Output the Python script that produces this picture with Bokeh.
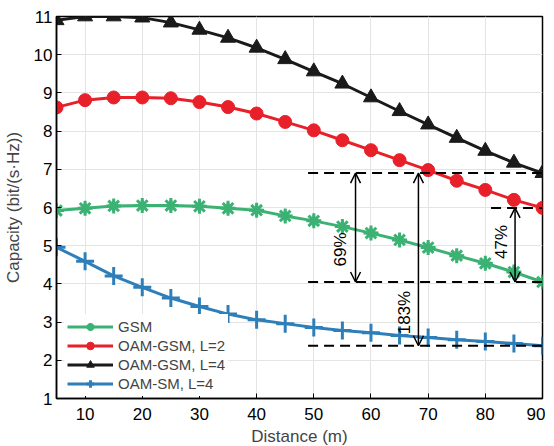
from bokeh.plotting import figure
from bokeh.models import (Range1d, FixedTicker, Arrow, OpenHead, Label, Legend, LegendItem)
from bokeh.embed import file_html
from bokeh.resources import INLINE

distance = [5, 10, 15, 20, 25, 30, 35, 40, 45, 50, 55, 60, 65, 70, 75, 80, 85, 90]
gsm = [5.92, 5.98, 6.04, 6.05, 6.05, 6.03, 5.98, 5.93, 5.78, 5.65, 5.50, 5.33, 5.15, 4.95, 4.74, 4.54, 4.31, 4.05]
oam_gsm_l2 = [8.62, 8.81, 8.88, 8.88, 8.86, 8.76, 8.63, 8.46, 8.24, 8.02, 7.76, 7.50, 7.24, 6.98, 6.70, 6.46, 6.20, 5.99]
oam_gsm_l4 = [10.90, 11.0, 11.0, 10.97, 10.84, 10.65, 10.44, 10.18, 9.88, 9.56, 9.24, 8.88, 8.52, 8.17, 7.82, 7.48, 7.17, 6.90]
oam_sm_l4 = [4.96, 4.59, 4.21, 3.91, 3.63, 3.41, 3.21, 3.06, 2.96, 2.86, 2.78, 2.72, 2.65, 2.60, 2.54, 2.49, 2.44, 2.38]

series_names = ["GSM", "OAM-GSM, L=2", "OAM-GSM, L=4", "OAM-SM, L=4"]
gain_labels = ["69%", "183%", "47%"]
x_ticks = [10, 20, 30, 40, 50, 60, 70, 80, 90]
y_ticks = [1, 2, 3, 4, 5, 6, 7, 8, 9, 10, 11]

FONT = "Liberation Sans"
green = "#3bb273"
red = "#e8202a"
black = "#1a1a1a"
blue = "#2e7fb9"

p = figure(frame_width=486, frame_height=382, x_range=Range1d(5, 90), y_range=Range1d(1, 11),
           output_backend="svg", toolbar_location=None,
           min_border_left=49, min_border_top=16, min_border_right=3, min_border_bottom=4)
p.background_fill_color = "white"
p.outline_line_color = "black"
p.outline_line_width = 1.5

for ax in (p.xaxis[0], p.yaxis[0]):
    ax.major_label_text_font = FONT
    ax.major_label_text_font_size = "17px"
    ax.major_label_text_color = "black"
    ax.axis_label_text_font = FONT
    ax.axis_label_text_font_size = "17px"
    ax.axis_label_text_font_style = "normal"
    ax.axis_line_width = 1.5
    ax.major_tick_in = 5
    ax.major_tick_out = 0
    ax.minor_tick_line_color = None
p.xaxis.ticker = FixedTicker(ticks=x_ticks)
p.yaxis.ticker = FixedTicker(ticks=y_ticks)
p.xaxis.axis_label = "Distance (m)"
p.yaxis.axis_label = "Capacity (bit/(s\u00b7Hz))"
p.xaxis.axis_label_standoff = 4
p.yaxis.axis_label_standoff = 8
p.yaxis.major_label_standoff = 4
p.xaxis.major_label_standoff = 9

p.xgrid.ticker = FixedTicker(ticks=x_ticks)
p.ygrid.ticker = FixedTicker(ticks=y_ticks)
p.grid.grid_line_color = "#e4e4e4"
p.grid.grid_line_width = 1

items = []
l1 = p.line(distance, gsm, line_color=green, line_width=3)
m1 = p.scatter(distance, gsm, marker="asterisk", size=15, line_color=green, line_width=3)
m1b = p.scatter(distance, gsm, marker="cross", size=11, line_color=green, line_width=3)
items.append(LegendItem(label=series_names[0], renderers=[l1, m1, m1b]))

l2 = p.line(distance, oam_gsm_l2, line_color=red, line_width=3)
m2 = p.scatter(distance, oam_gsm_l2, marker="circle", size=13, fill_color=red, line_color=red)
items.append(LegendItem(label=series_names[1], renderers=[l2, m2]))

l3 = p.line(distance, oam_gsm_l4, line_color=black, line_width=3)
m3 = p.scatter(distance, oam_gsm_l4, marker="triangle", size=15, fill_color=black, line_color=black)
items.append(LegendItem(label=series_names[2], renderers=[l3, m3]))

l4 = p.line(distance, oam_sm_l4, line_color=blue, line_width=3)
m4 = p.scatter(distance, oam_sm_l4, marker="cross", size=18, line_color=blue, line_width=3)
items.append(LegendItem(label=series_names[3], renderers=[l4, m4]))

# dashed reference levels at the last distance
x_end = distance[-1]
dash_start = 49
for lvl in (oam_gsm_l4[-1], gsm[-1], oam_sm_l4[-1]):
    p.line([dash_start, x_end], [lvl, lvl], line_color="black", line_width=2, line_dash="10 6")
p.line([81, x_end], [oam_gsm_l2[-1], oam_gsm_l2[-1]], line_color="black", line_width=2, line_dash="10 6")

# gain arrows
arrows = [
    (57.3, oam_gsm_l4[-1], gsm[-1], gain_labels[0], 54.7, 4.9),
    (68.3, oam_gsm_l4[-1], oam_sm_l4[-1], gain_labels[1], 65.9, 3.25),
    (85.2, oam_gsm_l2[-1], gsm[-1], gain_labels[2], 82.8, 5.1),
]
for xa, y0, y1, lab, xl, yl in arrows:
    p.add_layout(Arrow(x_start=xa, y_start=y0, x_end=xa, y_end=y1, line_width=1.5,
                       start=OpenHead(size=10, line_width=1.5),
                       end=OpenHead(size=10, line_width=1.5)))
    p.add_layout(Label(x=xl, y=yl, text=lab, angle=1.5708, text_align="center",
                       text_baseline="middle", text_font=FONT, text_font_size="17px",
                       text_color="black"))

legend = Legend(items=items, location=(8, 2), label_text_font=FONT, label_text_font_size="15px",
                glyph_width=46, glyph_height=19, label_height=19, spacing=0, padding=3, margin=0,
                border_line_alpha=0, background_fill_color="white", background_fill_alpha=1,
                label_standoff=5)
p.add_layout(legend, "center")

open("out.html", "w").write(file_html(p, INLINE))
